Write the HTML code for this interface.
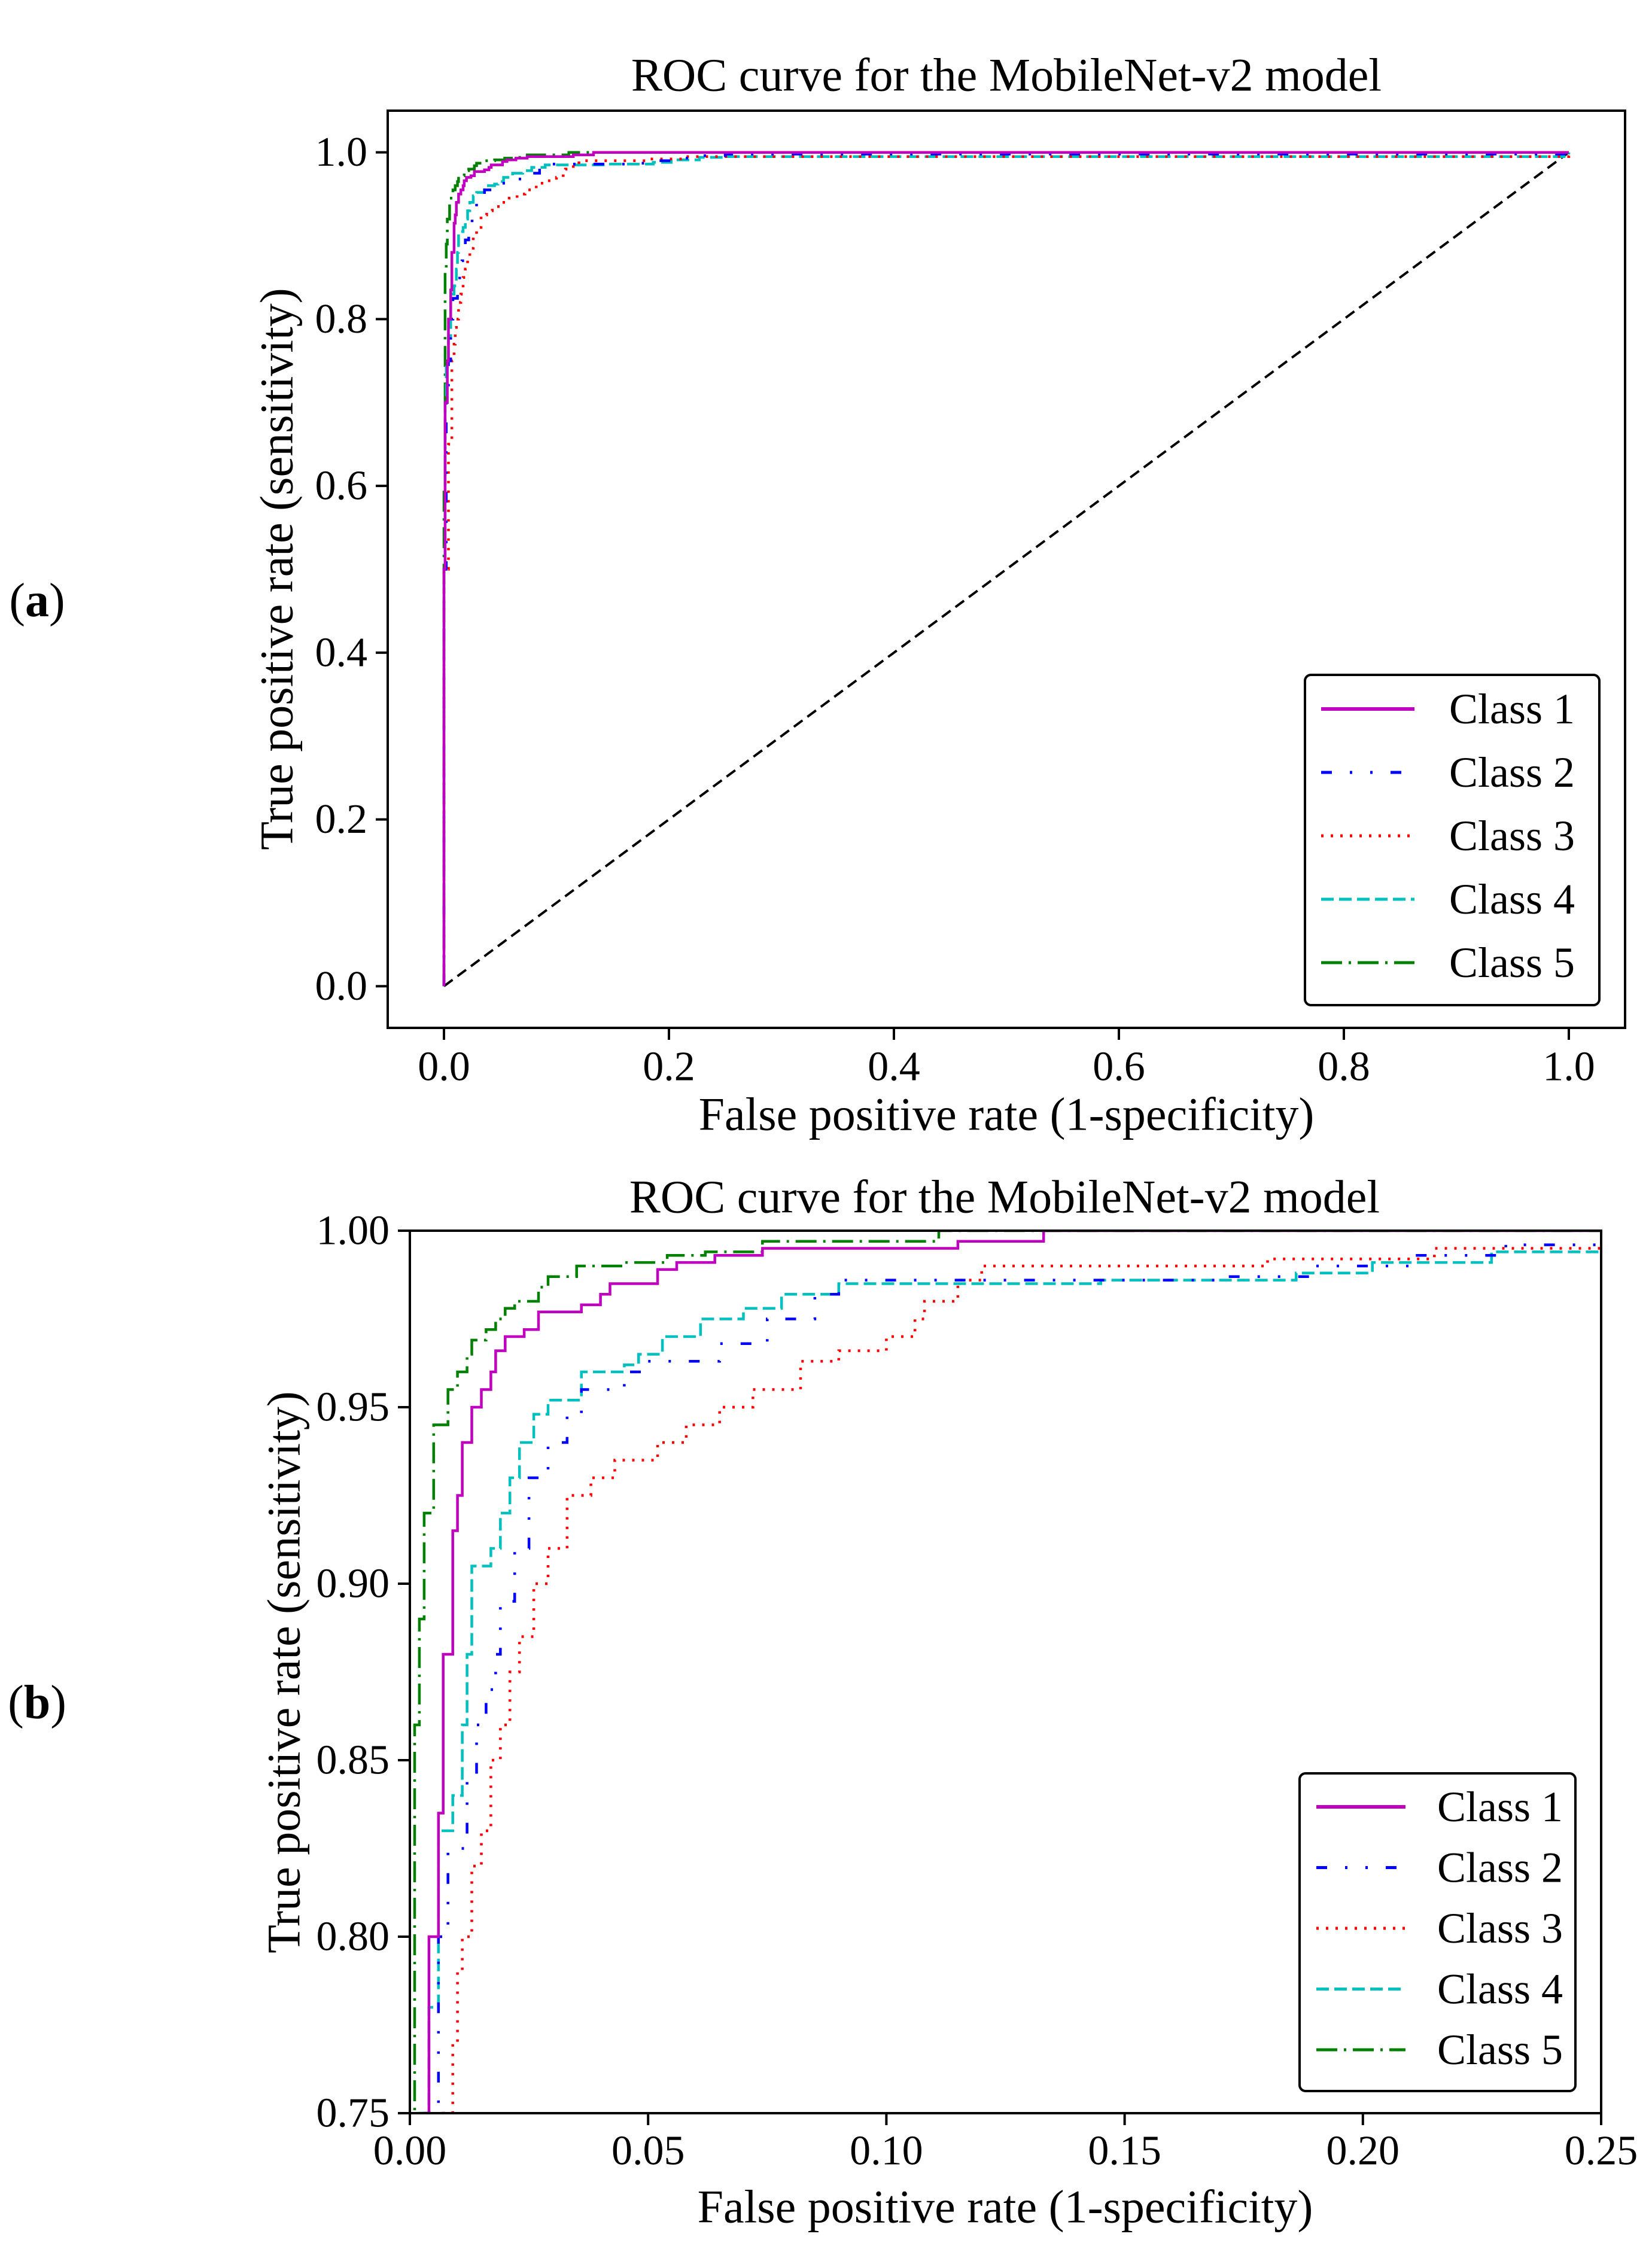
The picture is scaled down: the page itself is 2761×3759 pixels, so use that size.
<!DOCTYPE html>
<html><head><meta charset="utf-8"><style>
html,body{margin:0;padding:0;background:#fff;width:2761px;height:3759px;overflow:hidden;}
svg{display:block;font-family:"Liberation Serif",serif;}
text{font-family:"Liberation Serif",serif;}
</style></head><body>
<svg id="fig" width="2761" height="3759" viewBox="0 0 2761 3759" xmlns="http://www.w3.org/2000/svg">
<rect width="2761" height="3759" fill="#fff"/>
<text x="62" y="1030" font-size="80" text-anchor="middle" font-family="Liberation Serif, serif">(<tspan font-weight="bold">a</tspan>)</text>
<text x="62" y="2872" font-size="80" text-anchor="middle" font-family="Liberation Serif, serif">(<tspan font-weight="bold">b</tspan>)</text>
</svg>
<script>
// ROC data (FPR, TPR) per class
const classNames = ["Class 1","Class 2","Class 3","Class 4","Class 5"];
const fpr1 = [0,0,0.001,0.003,0.004,0.006,0.007,0.009,0.010,0.011,0.013,0.015,0.017,0.018,0.020,0.024,0.027,0.036,0.040,0.042,0.052,0.056,0.064,0.074,0.115,0.133,1];
const tpr1 = [0,0.5,0.7,0.75,0.80,0.835,0.88,0.915,0.925,0.94,0.95,0.955,0.96,0.966,0.97,0.972,0.977,0.979,0.982,0.985,0.989,0.991,0.993,0.995,0.997,1.0,1.0];
const fpr2 = [0,0,0.002,0.004,0.006,0.008,0.012,0.014,0.016,0.018,0.019,0.022,0.025,0.029,0.033,0.036,0.045,0.050,0.065,0.075,0.085,0.090,0.170,0.190,0.210,0.230,0.250,1];
const tpr2 = [0,0.5,0.7,0.75,0.80,0.825,0.845,0.86,0.87,0.88,0.895,0.91,0.93,0.94,0.948,0.955,0.96,0.963,0.968,0.975,0.982,0.986,0.987,0.99,0.993,0.996,0.998,1.0];
const fpr3 = [0,0,0.004,0.007,0.009,0.010,0.011,0.013,0.015,0.017,0.019,0.021,0.023,0.026,0.029,0.033,0.038,0.043,0.052,0.058,0.065,0.072,0.082,0.090,0.100,0.106,0.108,0.115,0.120,0.180,0.215,0.250,1];
const tpr3 = [0,0.5,0.65,0.75,0.77,0.79,0.80,0.82,0.83,0.85,0.86,0.875,0.885,0.90,0.91,0.925,0.93,0.935,0.94,0.945,0.95,0.955,0.963,0.966,0.97,0.975,0.98,0.986,0.99,0.992,0.995,0.995,1.0];
const fpr4 = [0,0,0.001,0.002,0.004,0.006,0.009,0.011,0.012,0.013,0.017,0.019,0.021,0.023,0.026,0.029,0.036,0.045,0.048,0.053,0.061,0.070,0.078,0.090,0.145,0.186,0.202,0.227,0.250,1];
const tpr4 = [0,0.5,0.7,0.75,0.78,0.83,0.84,0.86,0.88,0.905,0.91,0.92,0.93,0.94,0.948,0.952,0.96,0.962,0.965,0.97,0.975,0.978,0.982,0.985,0.986,0.988,0.991,0.994,0.995,1.0];
const fpr5 = [0,0,0.001,0.002,0.003,0.005,0.008,0.010,0.012,0.013,0.016,0.018,0.020,0.022,0.027,0.029,0.035,0.045,0.054,0.062,0.074,0.111,1];
const tpr5 = [0,0.6,0.86,0.89,0.92,0.945,0.955,0.96,0.965,0.969,0.972,0.975,0.978,0.98,0.984,0.987,0.99,0.991,0.993,0.994,0.997,1.0,1.0];
const fprs = [fpr1,fpr2,fpr3,fpr4,fpr5];
const tprs = [tpr1,tpr2,tpr3,tpr4,tpr5];
const topXTicks = ["0.0","0.2","0.4","0.6","0.8","1.0"];
const topYTicks = ["0.0","0.2","0.4","0.6","0.8","1.0"];
const botXTicks = ["0.00","0.05","0.10","0.15","0.20","0.25"];
const botYTicks = ["0.75","0.80","0.85","0.90","0.95","1.00"];

const colors = ["#bf00bf","#0000ff","#ff0000","#00bfbf","#008000"];
const dashes = ["none","18,30,4,30,4,30","4,12","21,9","35,11,4,11"];
const NS = "http://www.w3.org/2000/svg";
const FF = "Liberation Serif, serif";
const svg = document.getElementById("fig");
function mk(tag, attrs, parent){
  const e = document.createElementNS(NS, tag);
  for (const k in attrs) e.setAttribute(k, attrs[k]);
  if (tag === "text") e.setAttribute("font-family", FF);
  (parent||svg).appendChild(e);
  return e;
}

function panel(cfg){
  const g = mk("g", {});
  
  
  const sx = v => cfg.L + (v - cfg.x0) / (cfg.x1 - cfg.x0) * (cfg.R - cfg.L);
  const sy = v => cfg.B - (v - cfg.y0) / (cfg.y1 - cfg.y0) * (cfg.B - cfg.T);
  const clipId = cfg.name + "-clip";
  const defs = mk("defs", {}, g);
  const cp = mk("clipPath", {id: clipId}, defs);
  mk("rect", {x: cfg.L, y: cfg.T, width: cfg.R - cfg.L, height: cfg.B - cfg.T}, cp);
  const plot = mk("g", {"clip-path": "url(#" + clipId + ")"}, g);
  if (cfg.diag) {
    const d = mk("line", {x1: sx(0), y1: sy(0), x2: sx(1), y2: sy(1), stroke: "#000", "stroke-width": 4, "stroke-dasharray": "18,10"}, plot);
    
    
  }
  for (let c = 4; c >= 0; c--) {
    const xs = fprs[c], ys = tprs[c];
    let d = "M" + sx(xs[0]).toFixed(1) + "," + sy(ys[0]).toFixed(1);
    for (let i = 1; i < xs.length; i++) {
      d += " H" + sx(xs[i]).toFixed(1) + " V" + sy(ys[i]).toFixed(1);
    }
    const p = mk("path", {d: d, fill: "none", stroke: colors[c], "stroke-width": 4.5, "stroke-dasharray": dashes[c]}, plot);
    
    
  }
  const fr = mk("rect", {x: cfg.L, y: cfg.T, width: cfg.R - cfg.L, height: cfg.B - cfg.T, fill: "none", stroke: "#000", "stroke-width": 4}, g);
  
  
  for (let i = 0; i < cfg.xt.length; i++) {
    const v = parseFloat(cfg.xt[i]);
    mk("line", {x1: sx(v), x2: sx(v), y1: cfg.B, y2: cfg.B + 20, stroke: "#000", "stroke-width": 4}, g);
    const t = mk("text", {x: sx(v), y: cfg.xtY, "font-size": 70, "text-anchor": "middle", "dominant-baseline": "central"}, g);
    t.textContent = cfg.xt[i];
    
    
  }
  for (let i = 0; i < cfg.yt.length; i++) {
    const v = parseFloat(cfg.yt[i]);
    mk("line", {x1: cfg.L - 20, x2: cfg.L, y1: sy(v), y2: sy(v), stroke: "#000", "stroke-width": 4}, g);
    const t = mk("text", {x: cfg.L - 34, y: sy(v), "font-size": 70, "text-anchor": "end", "dominant-baseline": "central"}, g);
    t.textContent = cfg.yt[i];
    
    
  }
  const title = mk("text", {x: cfg.titleX, y: cfg.titleY, "font-size": 78, "text-anchor": "middle", "dominant-baseline": "central"}, g);
  title.textContent = "ROC curve for the MobileNet-v2 model";
  
  
  const xl = mk("text", {x: cfg.xlX, y: cfg.xlY, "font-size": 78, "text-anchor": "middle", "dominant-baseline": "central"}, g);
  xl.textContent = "False positive rate (1-specificity)";
  
  
  const yl = mk("text", {x: 0, y: 0, "font-size": 78, "text-anchor": "middle", "dominant-baseline": "central", transform: "translate(" + cfg.ylX + "," + cfg.ylY + ") rotate(-90)"}, g);
  yl.textContent = "True positive rate (sensitivity)";
  
  
  const lg = mk("g", {}, g);
  
  
  mk("rect", {x: cfg.lgL, y: cfg.lgT, width: cfg.lgR - cfg.lgL, height: cfg.lgB - cfg.lgT, rx: 10, fill: "#fff", stroke: "#000", "stroke-width": 4}, lg);
  for (let c = 0; c < 5; c++) {
    const yy = cfg.lgY0 + c * cfg.lgDy;
    const e = mk("g", {}, lg);
    
    
    mk("line", {x1: cfg.lgH0, x2: cfg.lgH1, y1: yy, y2: yy, stroke: colors[c], "stroke-width": c === 0 ? 6 : 5, "stroke-dasharray": dashes[c]}, e);
    const t = mk("text", {x: cfg.lgTx, y: yy, "font-size": 72, "dominant-baseline": "central"}, e);
    t.textContent = classNames[c];
  }
}

panel({name: "chart-a", L: 648, R: 2716, T: 185, B: 1718, x0: -0.05, x1: 1.05, y0: -0.05, y1: 1.05,
  xt: topXTicks, yt: topYTicks, xtY: 1783, diag: true,
  titleX: 1682, titleY: 125, xlX: 1682, xlY: 1862, ylX: 462, ylY: 951,
  lgL: 2181, lgR: 2673, lgT: 1128, lgB: 1680, lgY0: 1185, lgDy: 106, lgH0: 2208, lgH1: 2364, lgTx: 2422});
panel({name: "chart-b", L: 685, R: 2676, T: 2057, B: 3532, x0: 0, x1: 0.25, y0: 0.75, y1: 1.0,
  xt: botXTicks, yt: botYTicks, xtY: 3595, diag: false,
  titleX: 1679, titleY: 2000, xlX: 1680, xlY: 3688, ylX: 474, ylY: 2795,
  lgL: 2172, lgR: 2633, lgT: 2964, lgB: 3495, lgY0: 3020, lgDy: 101.5, lgH0: 2200, lgH1: 2349, lgTx: 2402});
</script>
</body></html>
